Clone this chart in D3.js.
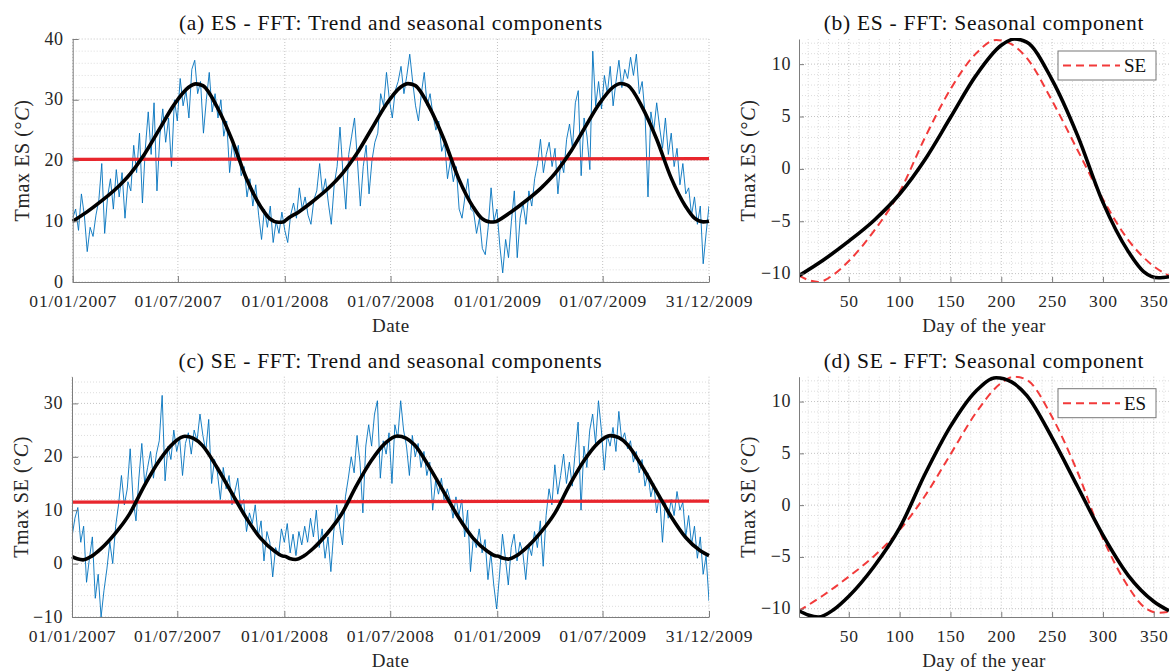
<!DOCTYPE html>
<html>
<head>
<meta charset="utf-8">
<script src="https://cdn.jsdelivr.net/npm/d3@7"></script>
<style>
  body { margin: 0; background: #fff; }
  svg { font-family: 'Liberation Serif', 'Times New Roman', serif; }
</style>
</head>
<body>
<div id="chart"></div>
<script>
// ── data ─────────────────────────────────────────────────────────
const START_DATE = '2007-01-01'
const END_DATE = '2009-12-31'
const STEP_DAYS = 5   // daily Tmax every 5 days
const dateTicks = ['2007-01-01', '2007-07-01', '2008-01-01', '2008-07-01', '2009-01-01', '2009-07-01', '2009-12-31']
const years = [2007, 2008, 2009]

const tmaxES = [
  10.5, 12, 8.5, 14.5, 11, 5, 9, 7.5, 11, 13.5, 19.5, 8, 14, 17, 12, 18.5, 14, 18, 10.5, 16.5, 15, 22.5, 18, 24.5, 13,
  22, 28, 21, 29.5, 15, 24, 28.5, 23, 27, 19, 30, 26.5, 33.5, 29, 31.5, 27, 35, 36.5, 31, 33, 24.5, 30, 34.5, 28, 31,
  27, 30, 24, 26.5, 18, 23, 20, 22.5, 17.5, 19, 14, 17, 12.5, 16, 11, 7, 12, 9, 12.5, 6.5, 10, 8, 11.5,
  8.5, 6.5, 11, 13, 10.5, 15.5, 12, 14, 11, 9.5, 13.5, 15, 19.5, 14.5, 17, 13, 9.5, 16, 19, 25.5, 18, 12, 21, 24, 27,
  20, 12.5, 19, 22.5, 14.5, 20, 23, 24.5, 31, 29, 34.5, 30, 27, 31.5, 33, 35.5, 31, 34, 37.5, 33, 29, 26.5, 31, 34.5, 29,
  31, 27.5, 25, 26.5, 21.5, 23, 17, 20, 16.5, 19, 12, 10.5, 14, 17, 12, 11.5, 8, 10.5, 5.5, 4.5, 9, 15.5, 10,
  12, 6, 1.5, 7, 4, 10, 15, 4, 10.5, 13, 9.5, 15, 12.5, 17, 19.5, 23.5, 18, 21, 23, 19, 22, 14.5, 20, 18, 23.5,
  26, 22, 29.5, 31.5, 17.5, 27, 24, 18.5, 38, 29, 33, 28.5, 34, 31, 35.5, 29, 33, 36.5, 32, 35, 33.5, 37, 34, 37.5, 31,
  33, 27.5, 14, 28, 25, 29.5, 25.5, 22, 27, 21, 24.5, 19, 22, 16, 19.5, 14.5, 15.5, 11, 14, 9.5, 12.5, 3, 8, 12.5
]

const tmaxSE = [
  5, 8.5, 10.5, 4, 7, -3.5, 1, 5, -6.5, -2, -10, -5, -1, 4, 0, 7, 11, 16.5, 11, 14, 21.5, 12, 8, 16, 22.5,
  15, 18, 21, 16, 20.5, 23, 31.5, 15.5, 22, 19.5, 25, 21, 23.5, 16.5, 22.5, 24.5, 20.5, 25, 23, 28, 24, 21, 27, 15, 19.5,
  17, 12, 18, 14, 16.5, 11, 13.5, 16, 10.5, 12, 6, 9.5, 7.5, 11, 5, 8, 0.5, 6, 4, -2.5, 3, 1.5, 6.5,
  4, 7.5, 2, 5.5, 1.5, 6, 3.5, 7, 4, 8.5, 5, 10, 3, 6.5, 1, 5, -1.5, 6, 11, 7, 3.5, 12.5, 16, 20, 17,
  24, 19, 9.5, 22, 26, 22, 28, 30.5, 16, 23, 20.5, 24.5, 15, 26, 23.5, 30.5, 25, 22, 16.5, 24, 20, 22.5, 18, 21, 16.5,
  19, 10, 15.5, 13, 16, 11.5, 14, 12, 8.5, 12.5, 9, 12, 5, 10, -1.5, 5, 3, 6.5, 2, 4.5, -3, 2, -4,
  -8.5, -2, 5.5, 1, -4, 3, 5.5, 0.5, 4, 2, -3, 3.5, 1.5, 6, 3, 8, -0.5, 9, 14, 11, 18.5, 13, 16.5, 20.5, 15,
  19, 14.5, 21, 26.5, 10, 22, 18, 25, 28, 22.5, 30.5, 25, 17.5, 24, 22, 25.5, 21, 28.5, 23, 24.5, 21.5, 23, 19, 21, 17,
  19.5, 14.5, 17, 12.5, 15, 9.5, 13, 4, 11.5, 8.5, 12, 9, 13.5, 10, 11.5, 5, 9, 3.5, 7, 1, 5, -2, 1.5, -7
]

// linear trend, value at START_DATE and END_DATE
const trendES = [20.2, 20.3]
const trendSE = [11.5, 11.7]

// seasonal components by day of the year
const seasonDaysES = [1, 25, 50, 75, 100, 125, 150, 175, 200, 213, 225, 250, 275, 300, 325, 340, 355, 365]
const seasonalES = [-10.2, -8.7, -6.9, -4.9, -2.4, 0.9, 4.9, 8.9, 11.8, 12.4, 12.1, 8.5, 3.2, -3.2, -7.9, -9.8, -10.4, -10.3]
const seasonDaysSE = [1, 10, 20, 35, 50, 75, 100, 125, 150, 175, 195, 210, 225, 250, 275, 300, 325, 350, 365]
const seasonalSE = [-10.2, -10.6, -10.8, -10.1, -8.8, -5.9, -2.2, 3.0, 7.6, 11.0, 12.3, 11.9, 10.6, 6.5, 1.8, -2.9, -6.8, -9.3, -10.2]

const dayTicks = [50, 100, 150, 200, 250, 300, 350]
const seasonTicks = [-10, -5, 0, 5, 10]

// ── setup ────────────────────────────────────────────────────────
const TEXT = '#262626'
const AXIS = '#7d7d7d'
const GRID = '#b4b4b4'
const MINOR = '#cfcfcf'
const BLUE = '#0072BD'
const RED = '#e8262d'
const DASH_RED = '#f23a3a'

const parse = d3.utcParse('%Y-%m-%d')
const fmt = d3.utcFormat('%d/%m/%Y')

const svg = d3.select('#chart').append('svg')
  .attr('width', 1172)
  .attr('height', 671)

let clipId = 0

function drawGrid(g, box, xs, ys, minorXs, minorYs) {
  const gg = g.append('g').attr('class', 'grid')
  minorYs.forEach(v => gg.append('line')
    .attr('x1', box.left).attr('x2', box.right).attr('y1', v).attr('y2', v)
    .attr('stroke', MINOR).attr('stroke-width', 0.7).attr('stroke-dasharray', '1,2'))
  minorXs.forEach(v => gg.append('line')
    .attr('x1', v).attr('x2', v).attr('y1', box.top).attr('y2', box.bottom)
    .attr('stroke', MINOR).attr('stroke-width', 0.7).attr('stroke-dasharray', '1,2'))
  ys.forEach(v => gg.append('line')
    .attr('x1', box.left).attr('x2', box.right).attr('y1', v).attr('y2', v)
    .attr('stroke', GRID).attr('stroke-width', 0.8).attr('stroke-dasharray', '1,2'))
  xs.forEach(v => gg.append('line')
    .attr('x1', v).attr('x2', v).attr('y1', box.top).attr('y2', box.bottom)
    .attr('stroke', GRID).attr('stroke-width', 0.8).attr('stroke-dasharray', '1,2'))
}

function styleAxis(sel, size, spacing) {
  sel.select('.domain').attr('stroke', AXIS).attr('stroke-width', 1)
  sel.selectAll('.tick line').attr('stroke', AXIS)
  sel.selectAll('.tick text').attr('fill', TEXT).style('font-size', size)
    .style('font-family', "'Liberation Serif', serif").style('letter-spacing', spacing)
}

function drawFrame(g, box, xAxis, yAxis, title, xName, yName) {
  g.append('g').attr('transform', `translate(0,${box.bottom})`).call(xAxis)
    .call(s => styleAxis(s, '17.5px', '0.8px'))
  g.append('g').attr('transform', `translate(${box.left},0)`).call(yAxis)
    .call(s => styleAxis(s, '18px', '0.6px'))
    .selectAll('.tick text').attr('dy', '0.28em')

  const cx = (box.left + box.right) / 2
  g.append('text').attr('x', cx).attr('y', box.top - 9)
    .attr('text-anchor', 'middle').attr('fill', '#111').style('font-size', '21.5px')
    .style('letter-spacing', '0.7px').text(title)

  g.append('text').attr('x', cx).attr('y', box.bottom + 50)
    .attr('text-anchor', 'middle').attr('fill', TEXT).style('font-size', '19px')
    .style('letter-spacing', '0.4px').text(xName)

  const yl = g.append('text')
    .attr('transform', `translate(${box.left - 44},${(box.top + box.bottom) / 2}) rotate(-90)`)
    .attr('text-anchor', 'middle').attr('fill', TEXT).style('font-size', '20px')
    .style('letter-spacing', '0.6px')
  yl.append('tspan').text(`Tmax ${yName} (°`)
  yl.append('tspan').style('font-style', 'italic').text('C')
  yl.append('tspan').text(')')
}

function addClip(box) {
  const id = `clip${clipId++}`
  svg.append('clipPath').attr('id', id).append('rect')
    .attr('x', box.left).attr('y', box.top - 1)
    .attr('width', box.right - box.left).attr('height', box.bottom - box.top + 2)
  return `url(#${id})`
}

// ── left panels: series, trend and trend + seasonal ─────────────
function timePanel({ box, yDomain, yTicks, values, trend, seasonDays, seasonal, title, yName }) {
  const t0 = parse(START_DATE), t1 = parse(END_DATE)
  const x = d3.scaleUtc().domain([t0, t1]).range([box.left, box.right])
  const y = d3.scaleLinear().domain(yDomain).range([box.bottom, box.top])
  const g = svg.append('g')

  const minorYs = d3.range(yDomain[0], yDomain[1] + 0.01, 2).filter(v => !yTicks.includes(v))
  drawGrid(g, box, dateTicks.map(d => x(parse(d))), yTicks.map(y), [], minorYs.map(y))

  const clip = addClip(box)
  const dateAt = i => d3.utcDay.offset(t0, i * STEP_DAYS)

  g.append('path').datum(values)
    .attr('clip-path', clip)
    .attr('fill', 'none').attr('stroke', BLUE).attr('stroke-width', 0.9)
    .attr('stroke-linejoin', 'round')
    .attr('d', d3.line().x((d, i) => x(dateAt(i))).y(d => y(d)))

  const trendX = [t0, t1]
  g.append('path').datum(trend)
    .attr('fill', 'none').attr('stroke', RED).attr('stroke-width', 3.2)
    .attr('d', d3.line().x((d, i) => x(trendX[i])).y(d => y(d)))

  const trendAt = d3.scaleUtc().domain(trendX).range(trend)
  const fit = []
  years.forEach(yr => seasonDays.forEach((day, k) => {
    const t = new Date(Date.UTC(yr, 0, day))
    if (t <= t1) fit.push([t, trendAt(t) + seasonal[k]])
  }))
  g.append('path').datum(fit)
    .attr('fill', 'none').attr('stroke', '#000').attr('stroke-width', 3.6)
    .attr('d', d3.line().x(d => x(d[0])).y(d => y(d[1])).curve(d3.curveMonotoneX))

  const xAxis = d3.axisBottom(x).tickValues(dateTicks.map(parse)).tickFormat(fmt)
    .tickSizeInner(-6).tickSizeOuter(0).tickPadding(12.5)
  const yAxis = d3.axisLeft(y).tickValues(yTicks).tickSizeInner(-6).tickSizeOuter(0).tickPadding(9)
  drawFrame(g, box, xAxis, yAxis, title, 'Date', yName)
}

// ── right panels: seasonal components ───────────────────────────
function seasonPanel({ box, main, other, legendName, title, yName }) {
  const x = d3.scaleLinear().domain([1, 365]).range([box.left, box.right])
  const allVals = main.values.concat(other.values)
  const y = d3.scaleLinear().domain(d3.extent(allVals)).range([box.bottom, box.top])
  const g = svg.append('g')

  const minorXs = d3.range(10, 365, 10).filter(v => !dayTicks.includes(v))
  const minorYs = d3.range(-10, 13, 1).filter(v => !seasonTicks.includes(v) && v >= y.domain()[0] && v <= y.domain()[1])
  drawGrid(g, box, dayTicks.map(x), seasonTicks.map(y), minorXs.map(x), minorYs.map(y))

  const clip = addClip(box)
  const line = d3.line().x(d => x(d[0])).y(d => y(d[1])).curve(d3.curveMonotoneX)

  g.append('path').datum(d3.zip(other.days, other.values))
    .attr('clip-path', clip)
    .attr('fill', 'none').attr('stroke', DASH_RED).attr('stroke-width', 2)
    .attr('stroke-dasharray', '8,5').attr('d', line)

  g.append('path').datum(d3.zip(main.days, main.values))
    .attr('clip-path', clip)
    .attr('fill', 'none').attr('stroke', '#000').attr('stroke-width', 3.6).attr('d', line)

  const xAxis = d3.axisBottom(x).tickValues(dayTicks).tickSizeInner(-5).tickSizeOuter(0).tickPadding(12.5)
  const yAxis = d3.axisLeft(y).tickValues(seasonTicks).tickSizeInner(-5).tickSizeOuter(0).tickPadding(8)
  drawFrame(g, box, xAxis, yAxis, title, 'Day of the year', yName)

  // legend
  const lg = g.append('g').attr('transform', `translate(${box.right - 111},${box.top + 12})`)
  lg.append('rect').attr('width', 98).attr('height', 29)
    .attr('fill', '#fff').attr('stroke', '#777').attr('stroke-width', 1)
  lg.append('line').attr('x1', 5).attr('x2', 62).attr('y1', 14.5).attr('y2', 14.5)
    .attr('stroke', DASH_RED).attr('stroke-width', 2).attr('stroke-dasharray', '8,5')
  lg.append('text').attr('x', 66).attr('y', 21).attr('fill', '#111')
    .style('font-size', '19px').text(legendName)
}

const ES = { days: seasonDaysES, values: seasonalES }
const SE = { days: seasonDaysSE, values: seasonalSE }

timePanel({
  box: { left: 72.7, right: 709, top: 39, bottom: 282 },
  yDomain: [0, 40], yTicks: [0, 10, 20, 30, 40],
  values: tmaxES, trend: trendES, seasonDays: seasonDaysES, seasonal: seasonalES,
  title: '(a) ES - FFT: Trend and seasonal components', yName: 'ES'
})

timePanel({
  box: { left: 72, right: 709, top: 376.7, bottom: 617 },
  yDomain: [-10, 35], yTicks: [-10, 0, 10, 20, 30],
  values: tmaxSE, trend: trendSE, seasonDays: seasonDaysSE, seasonal: seasonalSE,
  title: '(c) SE - FFT: Trend and seasonal components', yName: 'SE'
})

seasonPanel({
  box: { left: 799, right: 1169, top: 39, bottom: 282 },
  main: ES, other: SE, legendName: 'SE',
  title: '(b) ES - FFT: Seasonal component', yName: 'ES'
})

seasonPanel({
  box: { left: 799, right: 1169, top: 376.7, bottom: 617 },
  main: SE, other: ES, legendName: 'ES',
  title: '(d) SE - FFT: Seasonal component', yName: 'SE'
})
</script>
</body>
</html>
